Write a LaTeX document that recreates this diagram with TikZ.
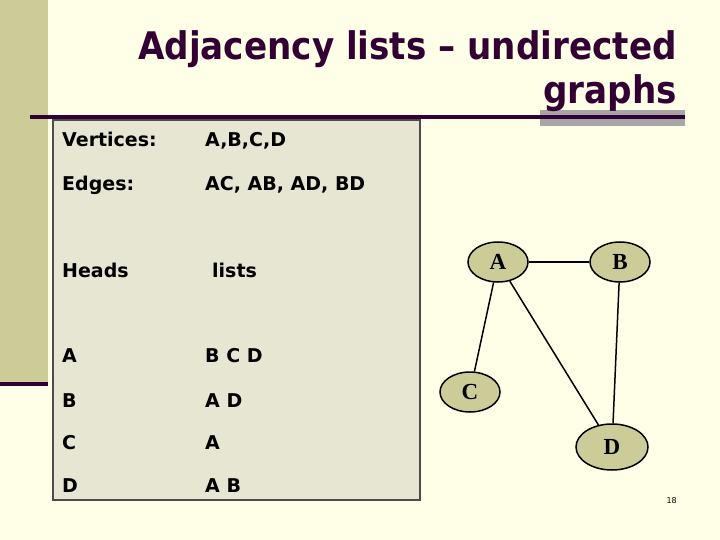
\documentclass[tikz,border=0pt]{standalone}
\usepackage{fontspec}
\setmainfont{DejaVu Sans}
\newfontfamily\titlefont{DejaVu Sans Condensed}
\newfontfamily\tnr{Liberation Serif}
\usetikzlibrary{shapes.geometric}
\definecolor{bg}{HTML}{FFFFE8}
\definecolor{olive}{HTML}{CCCC99}
\definecolor{dk}{HTML}{330033}
\definecolor{tbl}{HTML}{E6E6D2}
\begin{document}
\begin{tikzpicture}[x=1pt,y=-1pt,
  txt/.style={anchor=base west,inner sep=0pt,font=\bfseries\fontsize{19}{22}\selectfont},
  vert/.style={ellipse,draw=black,line width=1.5pt,fill=olive,minimum width=60pt,minimum height=40pt,inner sep=0pt,font=\tnr\bfseries\fontsize{23}{24}\selectfont},
  edge/.style={line width=1.5pt}]
\fill[bg] (0,0) rectangle (720,540);
\useasboundingbox (0,0) rectangle (720,540);
\fill[olive] (0,0) rectangle (48,385);
\fill[dk] (0,382) rectangle (48,386);
\fill[gray!70] (540,110) rectangle (685,126);
\fill[dk] (30,115) rectangle (685,119);
\draw[fill=tbl,draw=black!70,line width=1.5pt] (53,120) rectangle (420,500);
\node[anchor=base east,inner sep=0pt,text=dk,font=\titlefont\bfseries\fontsize{38}{40}\selectfont] (t1) at (677,60) {Adjacency lists – undirected};
\node[anchor=base east,inner sep=0pt,text=dk,font=\titlefont\bfseries\fontsize{38}{40}\selectfont] (t2) at (677,104) {graphs};
\node[txt] (v1) at (62,147) {Vertices:};
\node[txt] (v2) at (205,147) {A,B,C,D};
\node[txt] (e1) at (62,191) {Edges:};
\node[txt] (e2) at (205,191) {AC, AB, AD, BD};
\node[txt] (h1) at (62,277) {Heads};
\node[txt] (h2) at (212,277) {lists};
\node[txt] (ra) at (62,362) {A};
\node[txt] (la) at (205,362) {B C D};
\node[txt] (rb) at (62,407) {B};
\node[txt] (lb) at (205,407) {A D};
\node[txt] (rc) at (62,449) {C};
\node[txt] (lc) at (205,449) {A};
\node[txt] (rd) at (62,492) {D};
\node[txt] (ld) at (205,492) {A B};
\node[vert] (A) at (498,262) {A};
\node[vert] (B) at (620,262) {B};
\node[vert] (C) at (470,392) {C};
\node[vert,minimum width=72pt,minimum height=46pt] (D) at (612,447) {D};
\draw[edge] (A) -- (B);
\draw[edge] (A) -- (C);
\draw[edge] (A) -- (D);
\draw[edge] (B) -- (D);
\node[anchor=base east,inner sep=0pt,font=\fontsize{8}{9}\selectfont] (pg) at (677,503) {18};
\end{tikzpicture}
\end{document}
